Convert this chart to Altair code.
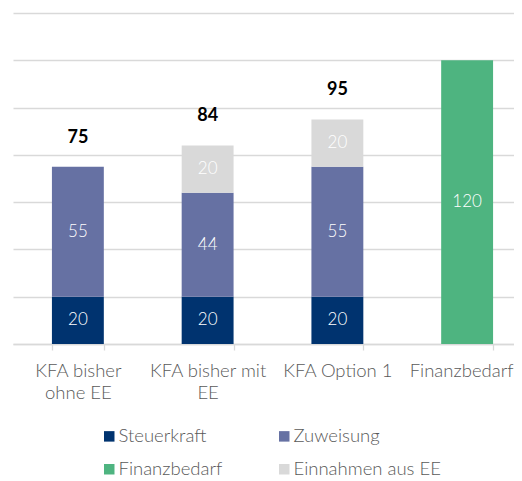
import altair as alt
import pandas as pd

categories = ["KFA bisher ohne EE", "KFA bisher mit EE", "KFA Option 1", "Finanzbedarf"]
series = ["Steuerkraft", "Zuweisung", "Finanzbedarf", "Einnahmen aus EE"]
steuerkraft = [20, 20, 20, 0]
zuweisung = [55, 44, 55, 0]
finanzbedarf = [0, 0, 0, 120]
einnahmen_ee = [0, 20, 20, 0]
color_map = {
    "Steuerkraft": "#00336F",
    "Zuweisung": "#6671A3",
    "Finanzbedarf": "#4EB480",
    "Einnahmen aus EE": "#D9D9D9",
}
legend_order = ["Steuerkraft", "Finanzbedarf", "Zuweisung", "Einnahmen aus EE"]
stack_order = {"Steuerkraft": 0, "Zuweisung": 1, "Einnahmen aus EE": 2, "Finanzbedarf": 3}

rows = []
for i, c in enumerate(categories):
    for s, vals in zip(series, [steuerkraft, zuweisung, finanzbedarf, einnahmen_ee]):
        if vals[i] > 0:
            rows.append({"cat": c, "series": s, "value": vals[i], "order": stack_order[s]})
df = pd.DataFrame(rows)

FONT = "Lato"
GRID = "#D9D9D9"
label_expr = (
    "datum.label == 'KFA bisher ohne EE' ? ['KFA bisher', 'ohne EE'] : "
    "datum.label == 'KFA bisher mit EE' ? ['KFA bisher mit', 'EE'] : datum.label"
)

x = alt.X(
    "cat:N",
    sort=categories,
    scale=alt.Scale(paddingInner=0.6, paddingOuter=0.3, range=[0, 519]),
    axis=alt.Axis(
        title=None, labelAngle=0, labelExpr=label_expr, labelFontSize=18.5,
        labelFontWeight=300,
        labelColor="#595959", labelFont=FONT, labelLineHeight=22,
        labelOffset={"condition": {"test": "datum.value == 'Finanzbedarf'", "value": -6}, "value": 0},
        tickBand="extent", tickSize=6, tickColor=GRID, tickWidth=1.3,
        domainColor=GRID, domainWidth=1.3, labelPadding=11,
    ),
)

base = alt.Chart(df).transform_stack(
    stack="value", groupby=["cat"], sort=[alt.SortField("order")], as_=["y0", "y1"]
).transform_calculate(mid="(datum.y0 + datum.y1) / 2")

bars = base.mark_bar().encode(
    x=x,
    y=alt.Y(
        "y0:Q",
        scale=alt.Scale(domain=[0, 140]),
        axis=alt.Axis(
            title=None, labels=False, ticks=False, domain=False,
            values=[0, 20, 40, 60, 80, 100, 120, 140],
            gridColor=GRID, gridWidth=1.3,
        ),
    ),
    y2="y1:Q",
    color=alt.Color(
        "series:N",
        scale=alt.Scale(domain=legend_order, range=[color_map[s] for s in legend_order]),
        legend=alt.Legend(
            title=None, orient="none", legendX=87, legendY=414, columns=2,
            symbolType="square", symbolSize=110, symbolStrokeWidth=0,
            labelFontSize=18.5, labelFontWeight=300, labelColor="#595959", labelFont=FONT,
            labelOffset=0, columnPadding=52, rowPadding=14, padding=0,
        ),
    ),
)

seg_labels = base.mark_text(color="white", fontSize=17, fontWeight=300, font=FONT).encode(
    x=x, y="mid:Q", text="value:Q"
)

totals = alt.Chart(df).transform_filter(
    "datum.series != 'Finanzbedarf'"
).transform_aggregate(
    total="sum(value)", groupby=["cat"]
).mark_text(fontWeight="bold", fontSize=18, font=FONT, color="black", dy=-29).encode(
    x=x, y="total:Q", text="total:Q"
)

chart = alt.layer(bars, seg_labels, totals).properties(
    width=501, height=331,
    autosize=alt.AutoSizeParams(type="none"),
    padding={"left": 5, "top": 5, "right": 0, "bottom": 137},
).configure_view(stroke=None)

chart.save("out.html", embed_options={"renderer": "svg", "actions": False})
